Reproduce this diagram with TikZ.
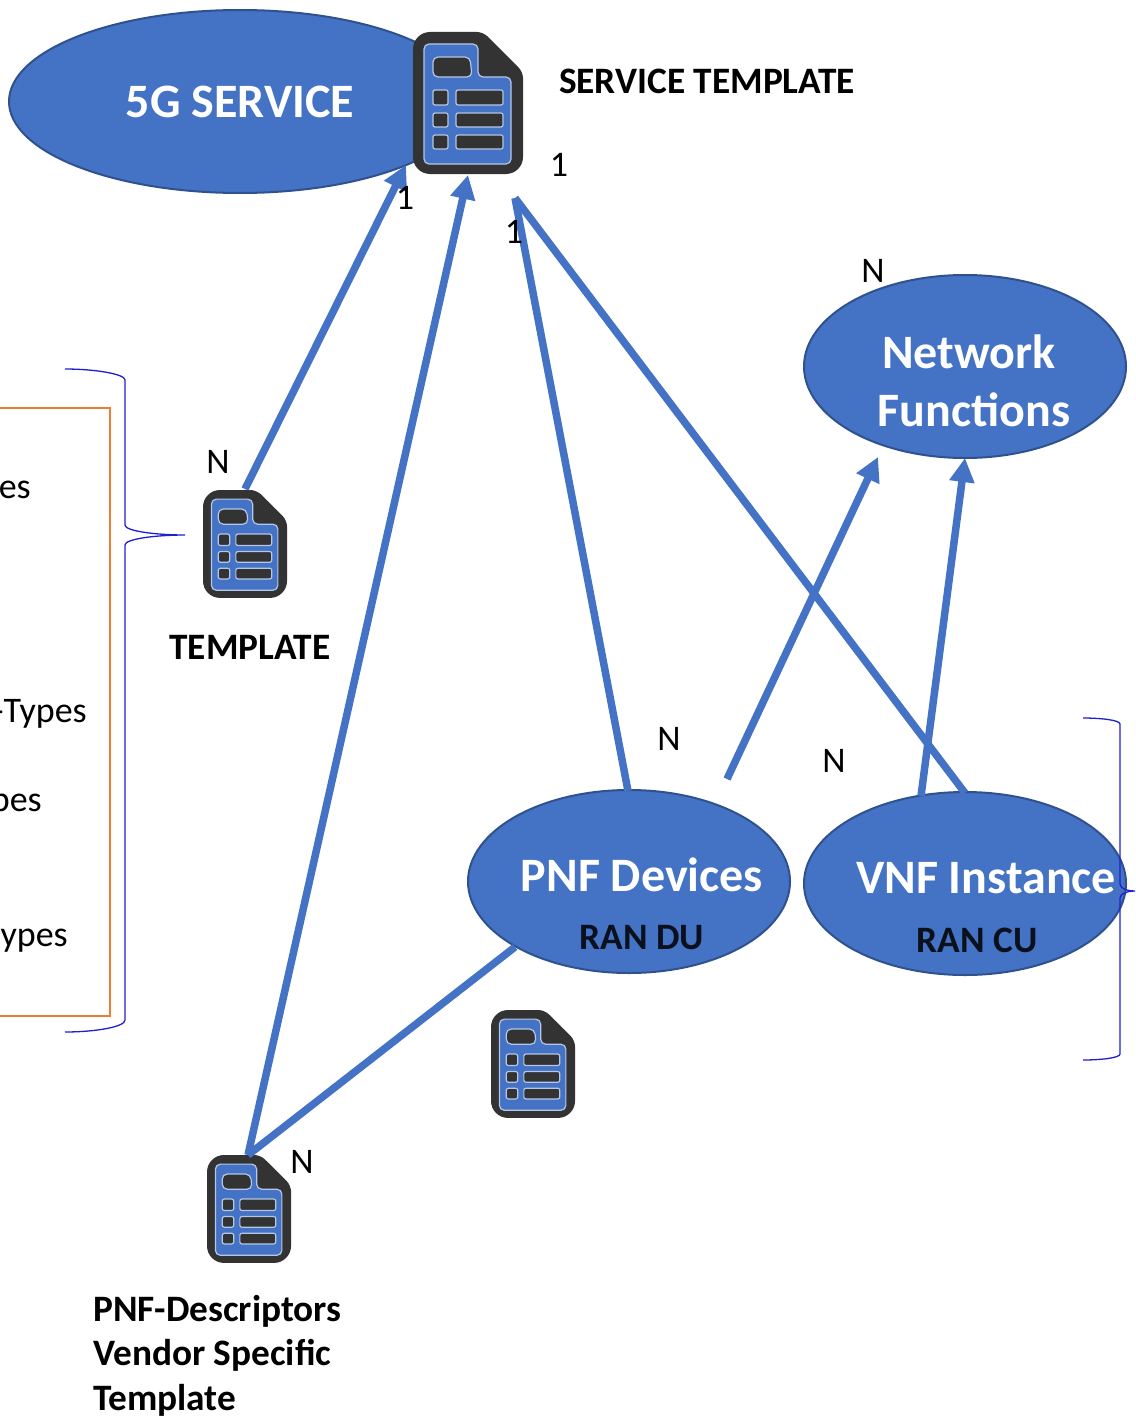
\documentclass[tikz,border=0pt]{standalone}
\usepackage{fontspec}
\setmainfont{Carlito}
\usetikzlibrary{arrows.meta,shapes.geometric}
\definecolor{fillblue}{HTML}{4472C4}
\definecolor{edgeblue}{HTML}{2F528F}
\definecolor{icondark}{HTML}{333333}
\definecolor{iconlight}{HTML}{B4C7E7}
\definecolor{bracecol}{HTML}{1F1FD0}
\definecolor{boxorange}{HTML}{ED7D31}
\tikzset{
  x=1pt,y=-1pt,
  blob/.style={ellipse,draw=edgeblue,line width=2pt,fill=fillblue,inner sep=0pt,outer sep=0pt},
  link/.style={draw=fillblue,line width=7.5pt},
  arrowlink/.style={link,-{Triangle[length=24pt,width=24pt]}},
  num/.style={font=\fontsize{36}{40}\selectfont,text=black,inner sep=0pt},
  boldlabel/.style={font=\fontsize{37.3}{42}\selectfont\bfseries,text=black,inner sep=0pt},
  whitelabel/.style={font=\fontsize{48}{52}\selectfont\bfseries,text=white,inner sep=0pt},
  bracepath/.style={draw=bracecol,line width=1.3pt},
  iconbar/.style={fill=icondark,draw=iconlight,line width=1.2pt,rounded corners=2pt},
  docicon/.pic={
    \fill[icondark,rounded corners=17pt] (0,60)--(0,0)[rounded corners=6pt]--(70,0)--(110,40)[rounded corners=17pt]--(110,142)--(0,142)--cycle;
    \fill[fillblue,draw=iconlight,line width=1.2pt,rounded corners=5pt] (11,12)--(65,12)--(65,45)--(98,45)--(98,132)--(11,132)--cycle;
    \draw[iconbar,rounded corners=5pt] (20,25)--(57,25)--(59,45)--(20,45)--cycle;
    \draw[iconbar] (20,58) rectangle (35,73);
    \draw[iconbar] (43,58) rectangle (90,73);
    \draw[iconbar] (20,81) rectangle (35,95);
    \draw[iconbar] (43,81) rectangle (90,95);
    \draw[iconbar] (20,103) rectangle (35,117);
    \draw[iconbar] (43,103) rectangle (90,117);
  }
}
\begin{document}
\begin{tikzpicture}
\useasboundingbox (0,0) rectangle (1135,1418);
\clip (0,0) rectangle (1135,1418);
% named end points
\coordinate (tplTop) at (245,489);
\coordinate (svcA) at (406,165);
\coordinate (descTop) at (248,1155);
\coordinate (svcB) at (468,175);
\coordinate (svcC) at (515,198);
\coordinate (nfA) at (878,457);
\coordinate (nfB) at (965,458);
\coordinate (pnfA) at (628,791);
\coordinate (pnfB) at (727,779);
\coordinate (pnfC) at (515,947);
\coordinate (vnfA) at (965,793);
\coordinate (vnfB) at (921,796);
% orange box
\draw[boxorange,line width=1.6pt] (-5,408)--(110,408)--(110,1016)--(-5,1016);
\node[num,anchor=base east] (t1) at (31,498) {es};
\node[num,anchor=base east] (t2) at (87,722) {-Types};
\node[num,anchor=base east] (t3) at (42,811) {pes};
\node[num,anchor=base east] (t4) at (68,946) {ypes};
% ellipses
\node[blob,minimum width=462pt,minimum height=183pt] (svc) at (240,101.5) {};
\node[blob,minimum width=322pt,minimum height=183pt] (nf) at (965,366.5) {};
\node[blob,minimum width=322pt,minimum height=183pt] (pnf) at (629,881.5) {};
\node[blob,minimum width=322pt,minimum height=183pt] (vnf) at (965,883.5) {};
% icons
\pic at (413,32) {docicon};
\begin{scope}[shift={(203,490)},x=0.764pt,y=-0.76pt]\pic {docicon};\end{scope}
\begin{scope}[shift={(491,1010)},x=0.764pt,y=-0.76pt]\pic {docicon};\end{scope}
\begin{scope}[shift={(207,1155)},x=0.764pt,y=-0.76pt]\pic {docicon};\end{scope}
% connectors
\draw[arrowlink] (tplTop) -- (svcA);
\draw[arrowlink] (descTop) -- (svcB);
\draw[link] (pnfA) -- (svcC);
\draw[link] (vnfA) -- (svcC);
\draw[arrowlink] (pnfB) -- (nfA);
\draw[arrowlink] (vnfB) -- (nfB);
\draw[link] (pnfC) -- (descTop);
% braces
\draw[bracepath] (65,369) .. controls (95,369) and (125,374) .. (125,380) -- (125,525) .. controls (125,531) and (155,535) .. (185,535) .. controls (155,535) and (125,539) .. (125,545) -- (125,1020) .. controls (125,1027) and (95,1032) .. (65,1032);
\draw[bracepath] (1083,718) .. controls (1100,718) and (1120,720) .. (1120,724) -- (1120,884) .. controls (1120,889) and (1128,891) .. (1136,891) .. controls (1128,891) and (1120,893) .. (1120,898) -- (1120,1054) .. controls (1120,1058) and (1100,1060) .. (1083,1060);
% ellipse labels
\node[whitelabel] (l5g) at (240,102) {5G SERVICE};
\node[whitelabel] (lnet) at (969,352) {Network};
\node[whitelabel] (lfun) at (974,410) {Functions};
\node[whitelabel] (lpnf) at (642,875) {PNF Devices};
\node[whitelabel] (lvnf) at (986,878) {VNF Instance};
\node[boldlabel,text=black!85!fillblue] (ldu) at (642,938) {RAN DU};
\node[boldlabel,text=black!85!fillblue] (lcu) at (977,940) {RAN CU};
% text labels
\node[boldlabel] (lsvc) at (707,81) {SERVICE TEMPLATE};
\node[boldlabel] (ltpl) at (250,647) {TEMPLATE};
\node[boldlabel,anchor=west] (ld1) at (93,1311) {PNF-Descriptors};
\node[boldlabel,anchor=west] (ld2) at (93,1355) {Vendor Specific};
\node[boldlabel,anchor=west] (ld3) at (93,1400) {Template};
% cardinalities
\node[num] (n1) at (559,165) {1};
\node[num] (n2) at (405,198) {1};
\node[num] (n3) at (514,232) {1};
\node[num] (n4) at (873,271) {N};
\node[num] (n5) at (218,462) {N};
\node[num] (n6) at (669,739) {N};
\node[num] (n7) at (834,761) {N};
\node[num] (n8) at (302,1162) {N};
\end{tikzpicture}
\end{document}
